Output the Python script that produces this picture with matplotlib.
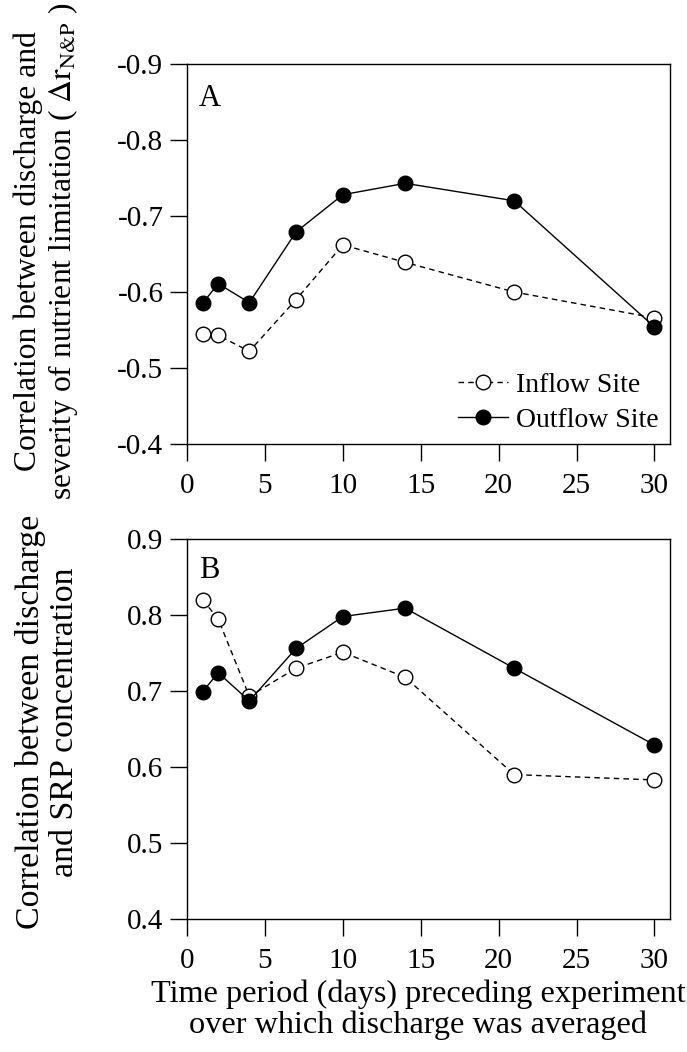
import matplotlib
matplotlib.use("Agg")
import matplotlib.pyplot as plt
from matplotlib.mathtext import MathTextParser

plt.rcParams['font.family'] = ['Liberation Serif', 'DejaVu Serif']
plt.rcParams['mathtext.fontset'] = 'stix'

days = [1, 2, 4, 7, 10, 14, 21, 30]

# Panel A: correlation between discharge and severity of nutrient limitation
a_inflow = [-0.545, -0.543, -0.522, -0.590, -0.662, -0.639, -0.600, -0.566]
a_outflow = [-0.585, -0.611, -0.586, -0.679, -0.728, -0.743, -0.720, -0.554]

# Panel B: correlation between discharge and SRP concentration
b_inflow = [0.820, 0.795, 0.693, 0.730, 0.751, 0.718, 0.590, 0.583]
b_outflow = [0.699, 0.724, 0.687, 0.756, 0.798, 0.809, 0.730, 0.629]

xticks = [0, 5, 10, 15, 20, 25, 30]
a_yticks = [-0.9, -0.8, -0.7, -0.6, -0.5, -0.4]
b_yticks = [0.4, 0.5, 0.6, 0.7, 0.8, 0.9]

TFS = 21     # tick labels
YFS = 24.5   # y axis labels
XFS = 23.2   # x axis label
W, H = 687, 1052
fig = plt.figure(figsize=(W / 100, H / 100), dpi=100)

left = 187 / W
width = (670 - 187) / W
axA = fig.add_axes([left, 1 - 444 / H, width, 380 / H])
axB = fig.add_axes([left, 1 - 919 / H, width, 380 / H])

mk = dict(marker='o', markersize=10.5, markeredgewidth=1.0, markeredgecolor='black')

for ax, inflow, outflow, yt, lim in [
    (axA, a_inflow, a_outflow, a_yticks, (-0.4, -0.9)),
    (axB, b_inflow, b_outflow, b_yticks, (0.4, 0.9)),
]:
    ax.plot(days, inflow, linestyle=(0, (4, 3)), color='black', linewidth=1.0,
            markerfacecolor='white', label='Inflow Site', zorder=3, **mk)
    ax.plot(days, outflow, linestyle='-', color='black', linewidth=1.0,
            markerfacecolor='black', label='Outflow Site', zorder=4, **mk)
    ax.set_xlim(0, 31)
    ax.set_ylim(*lim)
    ax.set_xticks(xticks)
    ax.set_yticks(yt)
    ax.set_yticklabels([f"{v:.1f}" for v in yt])
    ax.tick_params(axis='both', direction='out', length=12, width=1.0,
                   labelsize=TFS, colors='black')
    ax.tick_params(axis='x', pad=9)
    ax.tick_params(axis='y', pad=5)
    for s in ax.spines.values():
        s.set_linewidth(1.0)

axA.text(0.025, 0.948, 'A', transform=axA.transAxes, fontsize=22, va='top', ha='left')
axB.text(0.025, 0.955, 'B', transform=axB.transAxes, fontsize=22, va='top', ha='left')

leg = axA.legend(loc='lower right', frameon=False, fontsize=20, handlelength=1.8,
                 handletextpad=0.3, borderaxespad=0.1, labelspacing=0.35,
                 borderpad=0.3)

candidates = [
    r'$\Delta\mathrm{r}_{\mathrm{N}\&\mathrm{P}}$',
    r'$\Delta\mathrm{r}_{\mathrm{N&P}}$',
    r'$\Delta r_{N\&P}$',
    r'$\Delta$r',
]
sym = candidates[-1]
parser = MathTextParser('path')
for c in candidates:
    try:
        parser.parse(c, dpi=100, prop=matplotlib.font_manager.FontProperties(size=YFS))
        sym = c
        break
    except Exception:
        continue

axA.set_ylabel('Correlation between discharge and\nseverity of nutrient limitation ( ' + sym + ' )',
               fontsize=YFS, linespacing=1.12)
axA.yaxis.set_label_coords(-0.222, 0.537)
axB.set_ylabel('Correlation between discharge\nand SRP concentration', fontsize=YFS, linespacing=1.12)
axB.yaxis.set_label_coords(-0.222, 0.518)
axB.set_xlabel('Time period (days) preceding experiment\nover which discharge was averaged',
               fontsize=XFS, linespacing=1.05)
axB.xaxis.set_label_coords(0.478, -0.16)
axB.xaxis.label.set_va('top')

# keep the long upper y label inside the figure: shrink to fit, then place it
fig.canvas.draw()
lab = axA.yaxis.label
bb = lab.get_window_extent()
max_len = 497.0
if bb.height > max_len:
    lab.set_fontsize(YFS * max_len / bb.height)
    fig.canvas.draw()
    bb = lab.get_window_extent()
# want the top of the label ~2 px below the figure top
top_target = H - 2
if bb.y1 > top_target:
    shift = bb.y1 - top_target
    yfrac = 0.537 - shift / (380.0)
    axA.yaxis.set_label_coords(-0.222, yfrac)

fig.savefig('out.png', dpi=100)
